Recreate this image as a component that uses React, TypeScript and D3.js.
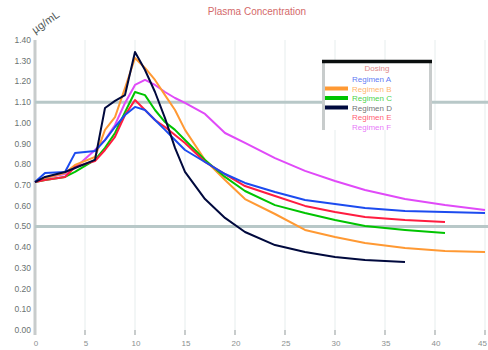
import React from "react";
import * as d3 from "d3";

// Sampling times (h) shared by every series; null marks no sample
const times = [0, 1, 3, 4, 6, 7, 8, 9, 10, 11, 12, 13, 14, 15, 17, 19, 21, 24, 27, 30, 33, 37, 41, 45];

const seriesNames = ["Regimen A", "Regimen B", "Regimen C", "Regimen D", "Regimen E", "Regimen F"];
const seriesColors = ["#1c4bef", "#ff9933", "#00c400", "#00093d", "#ff1c40", "#e04af8"];

const regimenA = [0.714, 0.758, 0.763, 0.854, 0.864, 0.917, 0.98, 1.038, 1.077, 1.062, 1.014, 0.966, 0.917, 0.869, 0.811, 0.753, 0.71, 0.666, 0.628, 0.608, 0.589, 0.574, 0.57, 0.565];
const regimenB = [0.714, 0.734, 0.758, 0.797, 0.835, 0.966, 1.028, 1.168, 1.313, 1.265, 1.207, 1.134, 1.062, 0.966, 0.821, 0.724, 0.632, 0.56, 0.483, 0.449, 0.42, 0.396, 0.381, 0.377];
const regimenC = [0.714, 0.724, 0.739, 0.763, 0.821, 0.879, 0.951, 1.052, 1.149, 1.134, 1.062, 1.004, 0.966, 0.917, 0.821, 0.739, 0.671, 0.603, 0.565, 0.531, 0.502, 0.483, 0.468, null];
const regimenD = [0.714, 0.739, 0.763, 0.782, 0.821, 1.072, 1.106, 1.134, 1.342, 1.255, 1.149, 1.023, 0.879, 0.763, 0.632, 0.541, 0.473, 0.41, 0.377, 0.352, 0.338, 0.328, null, null];
const regimenE = [0.714, 0.724, 0.739, 0.787, 0.816, 0.869, 0.932, 1.038, 1.11, 1.062, 1.014, 0.98, 0.941, 0.903, 0.811, 0.753, 0.695, 0.647, 0.599, 0.57, 0.546, 0.531, 0.521, null];
const regimenF = [0.714, 0.734, 0.753, 0.782, 0.869, 0.917, 0.99, 1.096, 1.183, 1.207, 1.183, 1.149, 1.12, 1.096, 1.043, 0.951, 0.903, 0.83, 0.768, 0.719, 0.676, 0.632, 0.603, 0.579];

const seriesValues = [regimenA, regimenB, regimenC, regimenD, regimenE, regimenF];
// Legend shows swatches only for these regimens
const swatchShown = [false, true, true, true, false, false];
// Paint order (first drawn is bottom-most)
const drawOrder = [5, 1, 2, 4, 0, 3];

const xTicks = [0, 5, 10, 15, 20, 25, 30, 35, 40, 45];
const yTicks = [0, 0.1, 0.2, 0.3, 0.4, 0.5, 0.6, 0.7, 0.8, 0.9, 1.0, 1.1, 1.2, 1.3, 1.4];
const referenceLevels = [0.5, 1.1];

const W = 488;
const H = 350;
const left = 35;
const right = 485;
const top = 40;
const bottom = 330;

export default function App() {
  const x = d3.scaleLinear().domain([0, 45]).range([left, right]);
  const y = d3.scaleLinear().domain([0, 1.4]).range([bottom, top]);
  const fmt = d3.format(".2f");

  const line = d3
    .line<[number, number | null]>()
    .defined((d) => d[1] !== null)
    .x((d) => x(d[0]))
    .y((d) => y(d[1] as number));

  const font = "'Liberation Sans', Arial, sans-serif";

  const legendX = 322;
  const legendW = 110;
  const legendTop = 60;
  const legendBottom = 130;
  const rowY = (i: number) => 79 + i * 9.5;

  return (
    <svg
      width={W}
      height={H}
      style={{ position: "absolute", left: 0, top: 0, background: "#fff" }}
      fontFamily={font}
    >
      {/* title */}
      <text x={257} y={15} textAnchor="middle" fontSize={10} fill="#d46a6a">
        Plasma Concentration
      </text>

      {/* unit label */}
      <text x={35} y={34} fontSize={11} fill="#505858" transform="rotate(-35 35 34)">
        µg/mL
      </text>

      {/* vertical grid */}
      {xTicks.slice(1).map((t) => (
        <line key={"g" + t} x1={x(t)} x2={x(t)} y1={top} y2={bottom} stroke="#e6eded" strokeWidth={1} />
      ))}

      {/* x tick marks and labels */}
      {xTicks.map((t, i) => (
        <g key={"xt" + t}>
          <line x1={x(t)} x2={x(t)} y1={bottom} y2={bottom + 5} stroke="#c8cccc" strokeWidth={2} />
          <text
            x={i === xTicks.length - 1 ? W - 1 : x(t) + 1}
            y={346}
            textAnchor={i === xTicks.length - 1 ? "end" : "middle"}
            fontSize={8}
            fill="#8a9090"
          >
            {t}
          </text>
        </g>
      ))}

      {/* y axis */}
      <line x1={left} x2={left} y1={top} y2={bottom + 5} stroke="#c8cccc" strokeWidth={3} />
      {yTicks.map((v) => (
        <text key={"yt" + v} x={31} y={y(v) + 3} textAnchor="end" fontSize={8.5} fill="#6a7272">
          {fmt(v)}
        </text>
      ))}

      {/* reference levels */}
      {referenceLevels.map((v) => (
        <line key={"r" + v} x1={left} x2={W} y1={y(v)} y2={y(v)} stroke="#b8c8c8" strokeWidth={3} />
      ))}

      {/* concentration curves */}
      {drawOrder.map((i) => (
        <path
          key={"s" + i}
          d={line(times.map((t, k) => [t, seriesValues[i][k]] as [number, number | null])) || ""}
          fill="none"
          stroke={seriesColors[i]}
          strokeWidth={2}
          strokeLinejoin="round"
        />
      ))}

      {/* legend */}
      <rect x={legendX} y={legendTop} width={legendW} height={legendBottom - legendTop} fill="#fff" />
      <line x1={legendX + 1.5} x2={legendX + 1.5} y1={legendTop + 2} y2={legendBottom} stroke="#c8cccc" strokeWidth={3} />
      <line
        x1={legendX + legendW - 1.5}
        x2={legendX + legendW - 1.5}
        y1={legendTop + 2}
        y2={legendBottom}
        stroke="#c8cccc"
        strokeWidth={3}
      />
      <line x1={legendX} x2={legendX + legendW} y1={legendTop + 1.5} y2={legendTop + 1.5} stroke="#0a0e0e" strokeWidth={3.5} />
      <text x={377} y={71} textAnchor="middle" fontSize={8} fill="#e08a8a">
        Dosing
      </text>
      {seriesNames.map((name, i) => (
        <g key={"l" + i}>
          {swatchShown[i] && (
            <line x1={325} x2={348} y1={rowY(i)} y2={rowY(i)} stroke={seriesColors[i]} strokeWidth={4} />
          )}
          <text x={352} y={rowY(i) + 3} fontSize={8} fill={i === 3 ? "#3a4242" : seriesColors[i]} fillOpacity={0.75}>
            {name}
          </text>
        </g>
      ))}
    </svg>
  );
}
